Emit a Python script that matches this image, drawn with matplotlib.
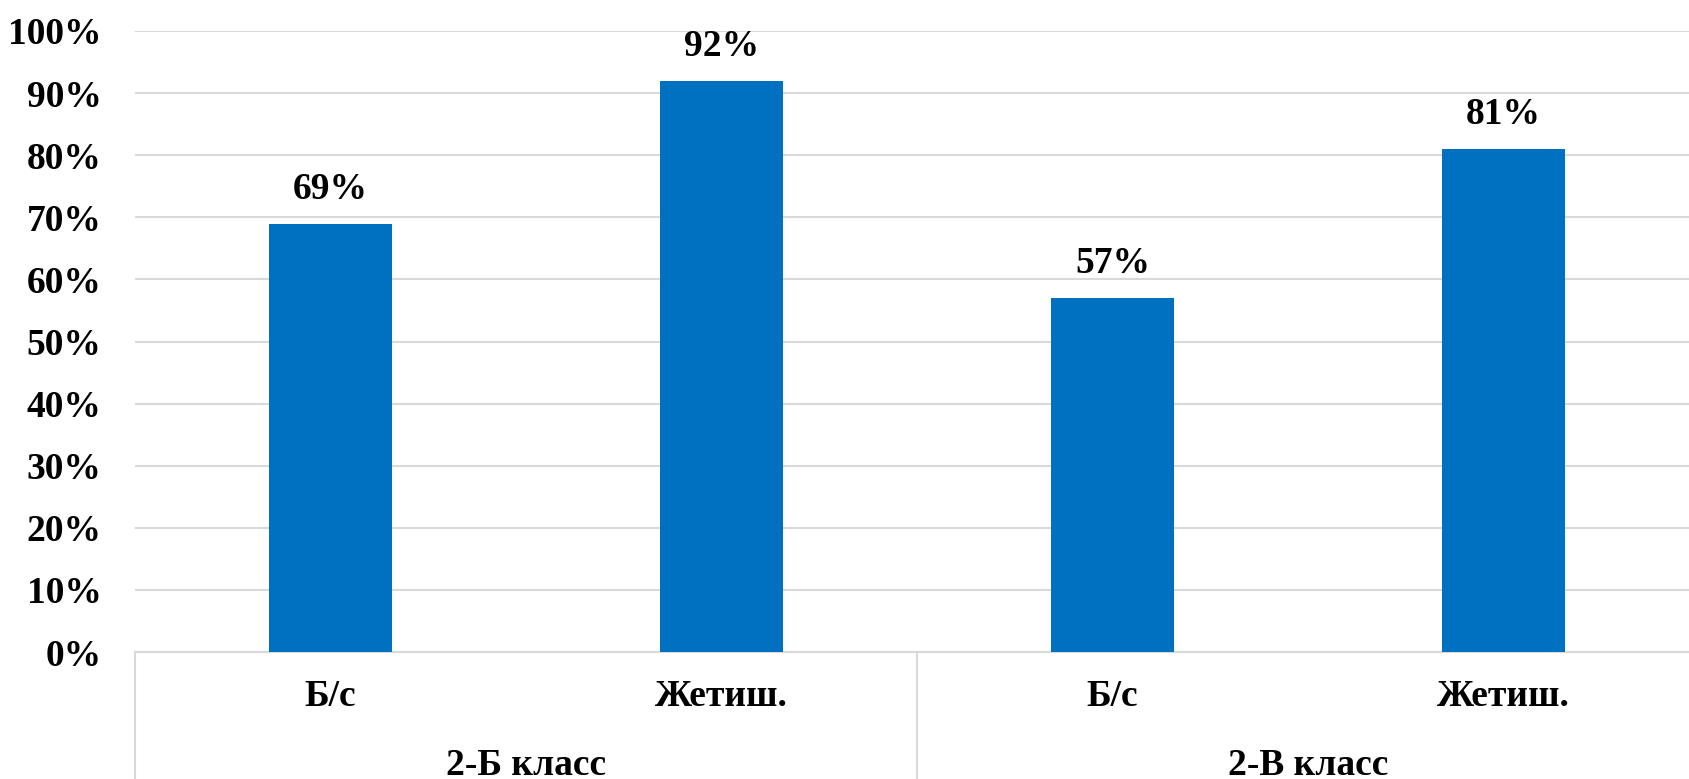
import numpy as np
import matplotlib.pyplot as plt
from matplotlib.transforms import blended_transform_factory
from matplotlib.ticker import PercentFormatter

# data
sub_labels = ["Б/с", "Жетиш.", "Б/с", "Жетиш."]
group_labels = ["2-Б класс", "2-В класс"]
values = [0.69, 0.92, 0.57, 0.81]

plt.rcParams['font.family'] = ['Liberation Serif', 'DejaVu Serif']
plt.rcParams['font.weight'] = 'bold'
fs = 27

fig = plt.figure(figsize=(16.9, 7.79), dpi=100)
ax = fig.add_axes([135/1690, 127/779, 1564/1690, 621/779])

x = np.arange(len(values))
ax.bar(x, values, width=0.317, color='#0070C0', zorder=3)

for xi, v in zip(x, values):
    ax.text(xi, v + 0.027, '{:.0%}'.format(v), ha='center', va='bottom',
            fontsize=fs, fontweight='bold')

ax.set_xlim(-0.5, len(values) - 0.5)
ax.set_ylim(0, 1)
ax.set_yticks(np.arange(0, 1.01, 0.1))
ax.yaxis.set_major_formatter(PercentFormatter(1.0, decimals=0))
ax.tick_params(axis='y', length=0, pad=24, labelsize=fs)
for lab in ax.get_yticklabels():
    lab.set_fontweight('bold')
ax.set_xticks([])
ax.grid(axis='y', color='#D9D9D9', linewidth=1.5, zorder=0)

for s in ['left', 'right', 'top']:
    ax.spines[s].set_visible(False)
ax.spines['bottom'].set_color('#D9D9D9')
ax.spines['bottom'].set_linewidth(1.5)

# two-level category axis
trans = blended_transform_factory(ax.transData, ax.transAxes)
for xi, lab in zip(x, sub_labels):
    ax.text(xi, -0.071, lab, transform=trans, ha='center', va='center',
            fontsize=fs, fontweight='bold')
for gi, lab in enumerate(group_labels):
    ax.text(gi * 2 + 0.5, -0.183, lab, transform=trans, ha='center', va='center',
            fontsize=fs, fontweight='bold')
for sep in [-0.5, 1.5, 3.5]:
    ax.plot([sep, sep], [0, -0.25], transform=trans, color='#D9D9D9',
            linewidth=1.5, clip_on=False)

fig.savefig('out.png', dpi=100)
